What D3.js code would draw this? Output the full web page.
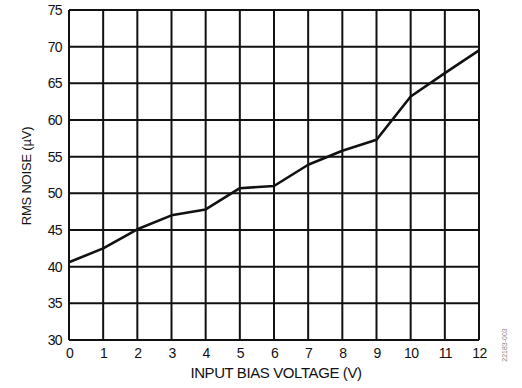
<!DOCTYPE html>
<html>
<head>
<meta charset="utf-8">
<script src="https://cdn.jsdelivr.net/npm/d3@7"></script>
<style>
  body { margin: 0; background: #fff; }
  text { font-family: "Liberation Sans", Arial, sans-serif; fill: #111; }
</style>
</head>
<body>
<div id="chart"></div>
<script>
var svgWidth = 522;
var svgHeight = 388;

var margin = { top: 10, right: 43, bottom: 48, left: 69 };
var width = svgWidth - margin.left - margin.right;
var height = svgHeight - margin.top - margin.bottom;

// data
var biasVoltage = [0, 1, 2, 3, 4, 5, 6, 7, 8, 9, 10, 11, 12];
var rmsNoise = [40.6, 42.5, 45.1, 47.0, 47.8, 50.7, 51.0, 53.9, 55.8, 57.3, 63.2, 66.4, 69.5];
var xTicks = [0, 1, 2, 3, 4, 5, 6, 7, 8, 9, 10, 11, 12];
var yTicks = [30, 35, 40, 45, 50, 55, 60, 65, 70, 75];

var svg = d3.select("#chart")
  .append("svg")
  .attr("width", svgWidth)
  .attr("height", svgHeight);

var chartGroup = svg.append("g")
  .attr("transform", `translate(${margin.left}, ${margin.top})`);

var xScale = d3.scaleLinear().domain([0, 12]).range([0, width]);
var yScale = d3.scaleLinear().domain([30, 75]).range([height, 0]);

// grid
chartGroup.append("g")
  .selectAll("line")
  .data(xTicks)
  .enter()
  .append("line")
  .attr("x1", d => xScale(d)).attr("x2", d => xScale(d))
  .attr("y1", 0).attr("y2", height)
  .attr("stroke", "#111").attr("stroke-width", 2);

chartGroup.append("g")
  .selectAll("line")
  .data(yTicks)
  .enter()
  .append("line")
  .attr("x1", 0).attr("x2", width)
  .attr("y1", d => yScale(d)).attr("y2", d => yScale(d))
  .attr("stroke", "#111").attr("stroke-width", 2);

// axes (labels only)
var bottomAxis = d3.axisBottom(xScale).tickValues(xTicks).tickSize(0).tickPadding(8);
var leftAxis = d3.axisLeft(yScale).tickValues(yTicks).tickSize(0).tickPadding(7);

var xAxisG = chartGroup.append("g")
  .attr("transform", `translate(0, ${height})`)
  .call(bottomAxis);
var yAxisG = chartGroup.append("g").call(leftAxis);

[xAxisG, yAxisG].forEach(function(g) {
  g.select(".domain").remove();
  g.selectAll("text")
    .attr("font-family", "'Liberation Sans', Arial, sans-serif")
    .attr("font-size", "14px")
    .attr("letter-spacing", "-0.6px")
    .attr("fill", "#111");
});

// curve
var line = d3.line()
  .x((d, i) => xScale(biasVoltage[i]))
  .y(d => yScale(d));

chartGroup.append("path")
  .datum(rmsNoise)
  .attr("d", line)
  .attr("fill", "none")
  .attr("stroke", "#111")
  .attr("stroke-width", 2.6)
  .attr("stroke-linejoin", "round");

// axis titles
svg.append("text")
  .attr("x", margin.left + width / 2 + 2)
  .attr("y", 378)
  .attr("text-anchor", "middle")
  .attr("font-size", "15px")
  .attr("letter-spacing", "-0.4px")
  .text("INPUT BIAS VOLTAGE (V)");

svg.append("text")
  .attr("transform", "translate(31, 176) rotate(-90)")
  .attr("text-anchor", "middle")
  .attr("font-size", "13px")
  .attr("letter-spacing", "-0.2px")
  .text("RMS NOISE (µV)");

svg.append("text")
  .attr("transform", "translate(507, 345) rotate(-90)")
  .attr("text-anchor", "middle")
  .attr("font-size", "7px")
  .style("fill", "#888")
  .text("22183-003");
</script>
</body>
</html>
